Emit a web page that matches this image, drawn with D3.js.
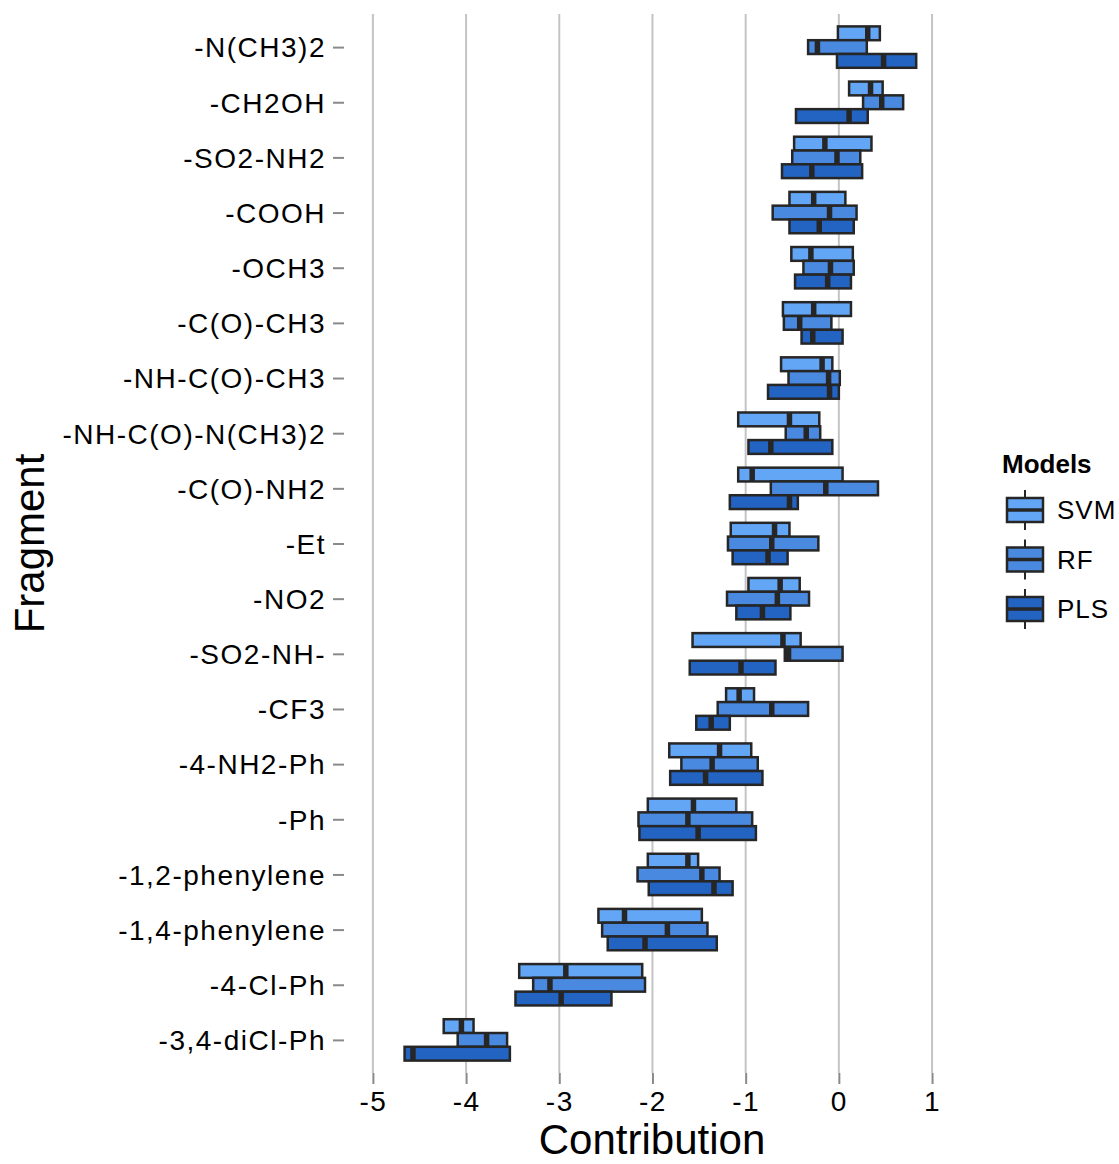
<!DOCTYPE html>
<html lang="en">
  <head>
    <meta charset="UTF-8" />
    <title>Fragment contributions</title>
    <script src="https://cdn.jsdelivr.net/npm/d3@7"></script>
    <style>
      body { margin: 0; background: #fff; }
      text { font-family: Arial, 'Liberation Sans', sans-serif; fill: #000; }
    </style>
  </head>
  <body>
    <div id="chart"></div>
    <script>
      const fragments = ['-N(CH3)2', '-CH2OH', '-SO2-NH2', '-COOH', '-OCH3', '-C(O)-CH3',
        '-NH-C(O)-CH3', '-NH-C(O)-N(CH3)2', '-C(O)-NH2', '-Et', '-NO2', '-SO2-NH-', '-CF3',
        '-4-NH2-Ph', '-Ph', '-1,2-phenylene', '-1,4-phenylene', '-4-Cl-Ph', '-3,4-diCl-Ph']
      const models = ['SVM', 'RF', 'PLS']

      // lower hinge, median, upper hinge per fragment
      const svmLow = [-0.01, 0.11, -0.48, -0.53, -0.51, -0.60, -0.62, -1.08, -1.08, -1.16, -0.97, -1.57, -1.21, -1.82, -2.05, -2.05, -2.58, -3.43, -4.24]
      const svmMid = [0.31, 0.34, -0.15, -0.27, -0.30, -0.27, -0.18, -0.53, -0.93, -0.69, -0.63, -0.60, -1.07, -1.28, -1.56, -1.62, -2.30, -2.93, -4.05]
      const svmHigh = [0.44, 0.47, 0.35, 0.07, 0.15, 0.13, -0.07, -0.21, 0.04, -0.53, -0.42, -0.41, -0.91, -0.94, -1.10, -1.51, -1.47, -2.11, -3.92]

      const rfLow = [-0.33, 0.26, -0.50, -0.71, -0.38, -0.59, -0.54, -0.57, -0.73, -1.19, -1.20, -0.58, -1.30, -1.69, -2.15, -2.16, -2.54, -3.28, -4.09]
      const rfMid = [-0.23, 0.46, -0.02, -0.10, -0.09, -0.42, -0.11, -0.35, -0.14, -0.72, -0.66, -0.54, -0.72, -1.36, -1.62, -1.47, -1.84, -3.10, -3.78]
      const rfHigh = [0.30, 0.69, 0.23, 0.19, 0.16, -0.08, 0.01, -0.20, 0.42, -0.22, -0.32, 0.04, -0.33, -0.87, -0.93, -1.28, -1.41, -2.08, -3.56]

      const plsLow = [-0.02, -0.46, -0.61, -0.53, -0.47, -0.40, -0.76, -0.97, -1.17, -1.14, -1.10, -1.60, -1.53, -1.81, -2.14, -2.04, -2.48, -3.47, -4.66]
      const plsMid = [0.48, 0.11, -0.29, -0.21, -0.12, -0.28, -0.10, -0.73, -0.53, -0.76, -0.82, -1.05, -1.37, -1.43, -1.51, -1.34, -2.08, -2.98, -4.57]
      const plsHigh = [0.83, 0.31, 0.25, 0.16, 0.13, 0.04, 0.00, -0.07, -0.44, -0.55, -0.52, -0.68, -1.17, -0.82, -0.89, -1.14, -1.31, -2.44, -3.53]

      const xTicks = [-5, -4, -3, -2, -1, 0, 1]
      const colors = ['#63a6f6', '#4a89e0', '#2363c2']

      const stats = {
        SVM: [svmLow, svmMid, svmHigh],
        RF: [rfLow, rfMid, rfHigh],
        PLS: [plsLow, plsMid, plsHigh]
      }
      const rows = []
      fragments.forEach((f, i) => {
        models.forEach(m => {
          const [lo, mid, hi] = stats[m]
          rows.push({ fragment: f, model: m, lo: lo[i], mid: mid[i], hi: hi[i] })
        })
      })

      const width = 1119
      const height = 1164
      const panel = { left: 344, right: 960, top: 14, bottom: 1073 }
      const ink = '#262626'

      const svg = d3.select('#chart').append('svg')
        .attr('width', width)
        .attr('height', height)

      const x = d3.scaleLinear().domain([-5.31, 1.30]).range([panel.left, panel.right])
      const y = d3.scalePoint().domain(fragments).range([panel.top, panel.bottom]).padding(0.6)
      const step = y.step()
      const dodge = d3.scaleBand().domain(models).range([-0.375 * step, 0.375 * step])
      const color = d3.scaleOrdinal().domain(models).range(colors)

      // vertical grid lines
      svg.append('g')
        .selectAll('line')
        .data(xTicks)
        .join('line')
        .attr('x1', d => x(d)).attr('x2', d => x(d))
        .attr('y1', panel.top).attr('y2', panel.bottom)
        .attr('stroke', '#c4c4c4')
        .attr('stroke-width', 2)

      // axes
      const yAxis = svg.append('g')
        .attr('transform', `translate(${panel.left},0)`)
        .call(d3.axisLeft(y).tickSize(11).tickPadding(7))
      const xAxis = svg.append('g')
        .attr('transform', `translate(0,${panel.bottom})`)
        .call(d3.axisBottom(x).tickValues(xTicks).tickFormat(d => String(d)).tickSize(11).tickPadding(7))
      for (const ax of [xAxis, yAxis]) {
        ax.select('.domain').remove()
        ax.selectAll('.tick line').attr('stroke', '#8a8a8a').attr('stroke-width', 2)
        ax.selectAll('.tick text')
          .style('font-size', '28px')
          .style('letter-spacing', '1.5px')
          .attr('fill', '#000')
      }
      yAxis.selectAll('.tick text').attr('dy', '0.35em')

      // boxes
      const boxes = svg.append('g')
        .selectAll('g')
        .data(rows)
        .join('g')
        .attr('transform', d => `translate(0,${y(d.fragment) + dodge(d.model)})`)

      boxes.append('rect')
        .attr('x', d => x(d.lo))
        .attr('width', d => x(d.hi) - x(d.lo))
        .attr('y', 0)
        .attr('height', dodge.bandwidth())
        .attr('fill', d => color(d.model))
        .attr('stroke', ink)
        .attr('stroke-width', 2.5)

      boxes.append('line')
        .attr('x1', d => x(d.mid)).attr('x2', d => x(d.mid))
        .attr('y1', 0).attr('y2', dodge.bandwidth())
        .attr('stroke', ink)
        .attr('stroke-width', 5.5)

      // axis titles
      svg.append('text')
        .attr('x', (panel.left + panel.right) / 2)
        .attr('y', 1154)
        .attr('text-anchor', 'middle')
        .style('font-size', '42px')
        .text('Contribution')

      svg.append('text')
        .attr('transform', `translate(44,${(panel.top + panel.bottom) / 2}) rotate(-90)`)
        .attr('text-anchor', 'middle')
        .style('font-size', '42px')
        .text('Fragment')

      // legend
      const legend = svg.append('g').attr('transform', 'translate(1002,0)')
      legend.append('text')
        .attr('x', 0).attr('y', 473)
        .style('font-size', '26px')
        .style('font-weight', 'bold')
        .text('Models')

      const keys = legend.selectAll('g.key')
        .data(models)
        .join('g')
        .attr('class', 'key')
        .attr('transform', (d, i) => `translate(0,${510 + i * 49.5})`)

      keys.append('line')
        .attr('x1', 23).attr('x2', 23)
        .attr('y1', -20).attr('y2', 20)
        .attr('stroke', ink)
        .attr('stroke-width', 2)
      keys.append('rect')
        .attr('x', 5).attr('y', -12)
        .attr('width', 36).attr('height', 24)
        .attr('fill', d => color(d))
        .attr('stroke', ink)
        .attr('stroke-width', 2.5)
      keys.append('line')
        .attr('x1', 5).attr('x2', 41)
        .attr('y1', 0).attr('y2', 0)
        .attr('stroke', ink)
        .attr('stroke-width', 3.5)
      keys.append('text')
        .attr('x', 55).attr('y', 0)
        .attr('dy', '0.35em')
        .style('font-size', '26px')
        .style('letter-spacing', '1px')
        .text(d => d)
    </script>
  </body>
</html>
